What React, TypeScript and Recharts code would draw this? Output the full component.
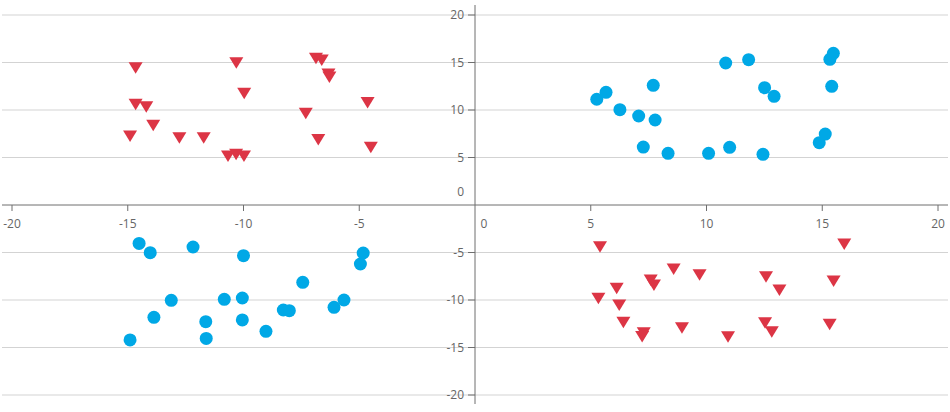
import React from "react";
import {
  ScatterChart,
  Scatter,
  XAxis,
  YAxis,
  ReferenceLine,
} from "recharts";

// Tick values
const xTicks = [-20, -15, -10, -5, 0, 5, 10, 15, 20];
const yTicks = [-20, -15, -10, -5, 0, 5, 10, 15, 20];
const gridTicks = [-20, -15, -10, -5, 5, 10, 15, 20];

// Red triangles (upper-left and lower-right)
const redX = [
  -14.66, -14.66, -14.2, -13.9, -14.9, -12.77, -11.72, -10.67, -10.32, -9.98,
  -10.31, -9.97, -6.87, -6.62, -6.33, -6.29, -7.31, -4.64, -6.77, -4.5,
  5.4, 6.12, 5.33, 6.23, 6.41, 7.59, 7.73, 8.58, 9.7, 7.29,
  7.22, 8.94, 15.95, 12.57, 13.15, 15.49, 12.53, 12.82, 15.32, 10.93,
];
const redY = [
  14.45, 10.6, 10.35, 8.4, 7.26, 7.08, 7.08, 5.16, 5.34, 5.16,
  14.98, 11.76, 15.44, 15.26, 13.8, 13.47, 9.65, 10.8, 6.9, 6.07,
  -4.39, -8.77, -9.82, -10.53, -12.35, -7.89, -8.42, -6.74, -7.33, -13.45,
  -13.85, -12.92, -4.1, -7.54, -8.95, -8.0, -12.39, -13.33, -12.56, -13.86,
];

// Blue circles (upper-right and lower-left)
const blueX = [
  5.26, 5.66, 6.26, 7.07, 7.7, 7.78, 7.27, 8.34, 10.09, 11.0,
  10.83, 11.82, 12.51, 12.92, 12.44, 14.87, 15.13, 15.33, 15.48, 15.41,
  -14.51, -14.03, -12.18, -10.0, -13.12, -10.83, -10.05, -13.87, -11.63, -10.05,
  -14.9, -11.61, -9.03, -7.44, -8.28, -8.02, -6.09, -5.66, -4.95, -4.83,
];
const blueY = [
  11.13, 11.86, 10.03, 9.37, 12.6, 8.95, 6.1, 5.44, 5.44, 6.07,
  14.95, 15.3, 12.35, 11.44, 5.33, 6.56, 7.47, 15.33, 15.97, 12.49,
  -4.04, -5.02, -4.42, -5.33, -10.03, -9.93, -9.79, -11.82, -12.28, -12.1,
  -14.2, -14.04, -13.3, -8.14, -11.05, -11.12, -10.77, -10.0, -6.21, -5.05,
];

const redData = redX.map((x, i) => ({ x, y: redY[i] }));
const blueData = blueX.map((x, i) => ({ x, y: blueY[i] }));

const RED = "#dc3545";
const BLUE = "#00a8e6";
const AXIS = "#6e6e6e";
const GRID = "#d3d3d3";
const LABEL = "#666";
const FONT = "'Open Sans', 'Noto Sans', sans-serif";

const W = 950;
const H = 412;
const M = { top: 5, right: 2, bottom: 7, left: 1 };
const AX_H = 1;
const AX_W = 1;
const PAD_X = { left: 10, right: 10 };
const PAD_Y = { top: 10, bottom: 9 };
const PLOT_L = M.left + AX_W;
const PLOT_R = W - M.right;
const PLOT_T = M.top;
const PLOT_B = H - M.bottom - AX_H;
const ZERO_X = PLOT_L + PAD_X.left + (PLOT_R - PLOT_L - PAD_X.left - PAD_X.right) / 2;
const ZERO_Y = PLOT_T + PAD_Y.top + (PLOT_B - PLOT_T - PAD_Y.top - PAD_Y.bottom) / 2;

const XTick = (props: any) => {
  const { x, payload } = props;
  const v = payload.value;
  if (v === 0) {
    return (
      <text x={x + 9} y={ZERO_Y + 19} dy="0.35em" textAnchor="middle" fill={LABEL} fontSize={12} fontFamily={FONT}>
        0
      </text>
    );
  }
  return (
    <g>
      <line x1={x} x2={x} y1={ZERO_Y} y2={ZERO_Y + 6} stroke={AXIS} strokeWidth={1} />
      <text x={x} y={ZERO_Y + 19} dy="0.35em" textAnchor="middle" fill={LABEL} fontSize={12} fontFamily={FONT}>
        {v}
      </text>
    </g>
  );
};

const YTick = (props: any) => {
  const { y, payload } = props;
  const v = payload.value;
  if (v === 0) {
    return (
      <text x={ZERO_X - 11} y={ZERO_Y - 13} dy="0.35em" textAnchor="end" fill={LABEL} fontSize={12} fontFamily={FONT}>
        0
      </text>
    );
  }
  return (
    <g>
      <line x1={ZERO_X - 7} x2={ZERO_X} y1={y} y2={y} stroke={AXIS} strokeWidth={1} />
      <text x={ZERO_X - 11} y={y} dy="0.35em" textAnchor="end" fill={LABEL} fontSize={12} fontFamily={FONT}>
        {v}
      </text>
    </g>
  );
};

const DownTriangle = (props: any) => {
  const { cx, cy } = props;
  if (cx == null || cy == null) return null;
  const d = `M${cx - 7},${cy - 5.5} L${cx + 7},${cy - 5.5} L${cx},${cy + 6} Z`;
  return <path d={d} fill={RED} />;
};

const Dot = (props: any) => {
  const { cx, cy } = props;
  if (cx == null || cy == null) return null;
  return <circle cx={cx} cy={cy} r={6.5} fill={BLUE} />;
};

export default function App() {
  return (
    <div style={{ position: "absolute", left: 0, top: 0, width: W, height: H }}>
      <ScatterChart width={W} height={H} margin={M}>
        {gridTicks.map((t) => (
          <ReferenceLine key={`g${t}`} y={t} stroke={GRID} strokeWidth={1} />
        ))}
        <XAxis
          type="number"
          dataKey="x"
          domain={[-20, 20]}
          ticks={xTicks}
          interval={0}
          padding={PAD_X}
          height={AX_H}
          axisLine={false}
          tickLine={false}
          tick={(p: any) => <XTick {...p} />}
          allowDataOverflow
        />
        <YAxis
          type="number"
          dataKey="y"
          domain={[-20, 20]}
          ticks={yTicks}
          interval={0}
          padding={PAD_Y}
          width={AX_W}
          axisLine={false}
          tickLine={false}
          tick={(p: any) => <YTick {...p} />}
          allowDataOverflow
        />
        <ReferenceLine y={0} stroke={AXIS} strokeWidth={1} />
        <ReferenceLine x={0} stroke={AXIS} strokeWidth={1} />
        <Scatter data={redData} fill={RED} shape={<DownTriangle />} isAnimationActive={false} />
        <Scatter data={blueData} fill={BLUE} shape={<Dot />} isAnimationActive={false} />
      </ScatterChart>
    </div>
  );
}
